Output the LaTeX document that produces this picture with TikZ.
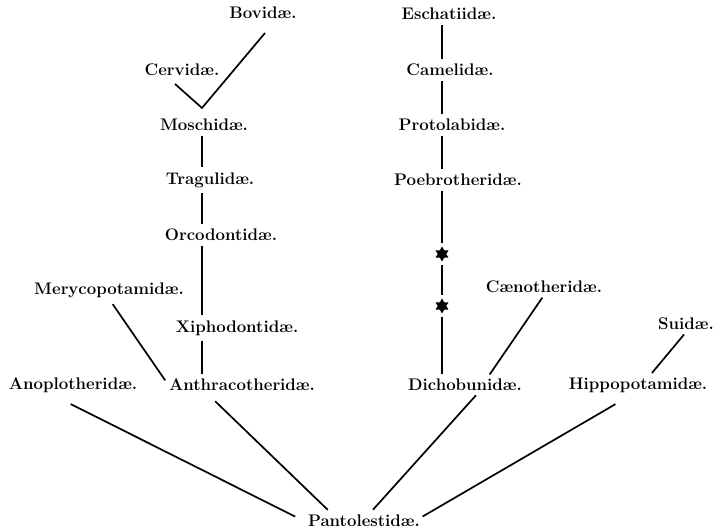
\documentclass[tikz,border=0pt]{standalone}
\usepackage{fontspec}
\usepackage{tikz}
\usetikzlibrary{calc, shapes.geometric}

\tikzset{
  fam/.style={font=\fontsize{16.8}{18}\selectfont\bfseries, inner sep=2pt},
  link/.style={line width=1.7pt, shorten <=3pt, shorten >=3pt},
  hexstar/.style={star, star points=6, star point ratio=1.75, fill=black,
    minimum size=15pt, inner sep=0pt},
}

\begin{document}
\begin{tikzpicture}[x=1pt, y=-1pt]
  \useasboundingbox (0,0) rectangle (716,529);
  \coordinate (lcol) at (202,0);
  \coordinate (rcol) at (442,0);
  % Left stem
  \node[fam] (bov) at (263,13) {Bovidæ.};
  \node[fam] (cer) at (182,70) {Cervidæ.};
  \node[fam] (mos) at (204,125) {Moschidæ.};
  \node[fam] (tra) at (210,180) {Tragulidæ.};
  \node[fam] (orc) at (221,235) {Orcodontidæ.};
  \node[fam] (mer) at (109,290) {Merycopotamidæ.};
  \node[fam] (xip) at (237,328) {Xiphodontidæ.};
  \node[fam] (ano) at (73,385) {Anoplotheridæ.};
  \node[fam] (ant) at (242,385) {Anthracotheridæ.};
  % Right stem
  \node[fam] (esc) at (449,14) {Eschatiidæ.};
  \node[fam] (cam) at (450,70) {Camelidæ.};
  \node[fam] (pro) at (452,125) {Protolabidæ.};
  \node[fam] (poe) at (458,180) {Poebrotheridæ.};
  \node[hexstar] (s1) at (442,254) {};
  \node[hexstar] (s2) at (442,306) {};
  \node[fam] (cae) at (544,287) {Cænotheridæ.};
  \node[fam] (dic) at (465,385) {Dichobunidæ.};
  \node[fam] (sui) at (686,324) {Suidæ.};
  \node[fam] (hip) at (638,385) {Hippopotamidæ.};
  % Root
  \node[fam] (pan) at (364,521) {Pantolestidæ.};

  % Fork under Moschidae
  \coordinate (fork) at (202,108);
  \coordinate (cerfoot) at (175,84);
  \coordinate (bovfoot) at (265,33);
  \draw[line width=1.7pt] (cerfoot) -- (fork) -- (bovfoot);

  \foreach \a/\b in {mos/tra, tra/orc, orc/xip, xip/ant}
    \draw[link] (\a.south -| lcol) -- (\b.north -| lcol);
  \foreach \a/\b in {esc/cam, cam/pro, pro/poe}
    \draw[link] (\a.south -| rcol) -- (\b.north -| rcol);
  \draw[link] (poe.south -| rcol) -- (s1.north);
  \draw[link] (s1.south) -- (s2.north);
  \draw[link] (s2.south) -- (dic.north -| rcol);

  \draw[link] ($(mer.south)+(2,2)$) -- ($(ant.north west)+(0,6)$);
  \draw[link] (cae.south) -- ($(dic.north)+(23,0)$);
  \draw[link] (sui.south) -- ($(hip.north)+(12,0)$);

  % Lines to the root
  \draw[link] ($(ano.south)+(-5,8)$) -- ($(pan.west)+(-8,-3)$);
  \draw[link] ($(ant.south)+(-29,6)$) -- ($(pan.north west)+(24,-1)$);
  \draw[link] ($(dic.south)+(13,0)$) -- ($(pan.north)+(7,-1)$);
  \draw[link] ($(hip.south)+(-20,8)$) -- ($(pan.east)+(-2,-3)$);
\end{tikzpicture}
\end{document}
